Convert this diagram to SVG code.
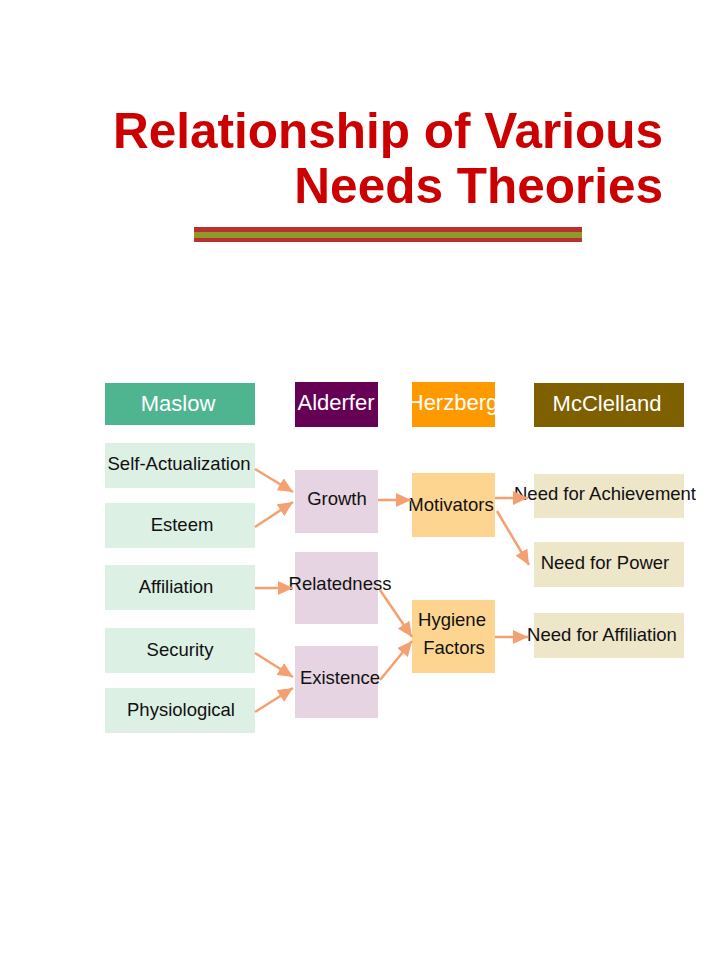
<svg xmlns="http://www.w3.org/2000/svg" width="728" height="971" viewBox="0 0 728 971">
<defs>
<style>
.t{font-family:"Liberation Sans",Arial,sans-serif;font-size:18.5px;fill:#111;text-anchor:middle}
.h{font-family:"Liberation Sans",Arial,sans-serif;font-size:22px;fill:#fff;text-anchor:middle}
.title{font-family:"Liberation Sans",Arial,sans-serif;font-size:49.5px;font-weight:bold;fill:#cc0000;text-anchor:end}
.mg{fill:#dcf0e4}.ap{fill:#e6d4e2}.ho{fill:#fdd590}.mt{fill:#ede6c9}
.c{stroke:#f4a070;stroke-width:2.5;fill:none;marker-end:url(#ah)}
</style>
<marker id="ah" markerUnits="userSpaceOnUse" markerWidth="17" markerHeight="14" refX="15" refY="7" orient="auto">
<path d="M0,0 L15,7 L0,14 Z" fill="#f4a070"/>
</marker>
</defs>
<rect width="728" height="971" fill="#fff"/>
<g id="title">
<text class="title" x="663" y="148">Relationship of Various</text>
<text class="title" x="663" y="203">Needs Theories</text>
<rect x="194" y="227" width="388" height="15" fill="#b83030"/>
<rect x="194" y="232" width="388" height="6" fill="#8c9a2a"/>
</g>
<g id="maslow-header"><rect x="105" y="383" width="150" height="42" fill="#4fb591"/><text class="h" x="178" y="411">Maslow</text></g>
<g id="alderfer-header"><rect x="295" y="382" width="83" height="45" fill="#660055"/><text class="h" x="336" y="410">Alderfer</text></g>
<g id="herzberg-header"><rect x="412" y="382" width="83" height="45" fill="#ff9900"/><text class="h" x="453" y="410">Herzberg</text></g>
<g id="mcclelland-header"><rect x="534" y="383" width="150" height="44" fill="#7f6000"/><text class="h" x="607" y="411">McClelland</text></g>

<g id="self-actualization"><rect class="mg" x="105" y="443" width="150" height="45"/><text class="t" x="179" y="470">Self-Actualization</text></g>
<g id="esteem"><rect class="mg" x="105" y="503" width="150" height="45"/><text class="t" x="182" y="531">Esteem</text></g>
<g id="affiliation"><rect class="mg" x="105" y="565" width="150" height="45"/><text class="t" x="176" y="593">Affiliation</text></g>
<g id="security"><rect class="mg" x="105" y="628" width="150" height="45"/><text class="t" x="180" y="656">Security</text></g>
<g id="physiological"><rect class="mg" x="105" y="688" width="150" height="45"/><text class="t" x="181" y="716">Physiological</text></g>

<g id="growth"><rect class="ap" x="295" y="470" width="83" height="63"/><text class="t" x="337" y="505">Growth</text></g>
<g id="relatedness"><rect class="ap" x="295" y="552" width="83" height="72"/><text class="t" x="340" y="590">Relatedness</text></g>
<g id="existence"><rect class="ap" x="295" y="646" width="83" height="72"/><text class="t" x="340" y="684">Existence</text></g>

<g id="motivators"><rect class="ho" x="412" y="473" width="83" height="64"/><text class="t" x="451" y="511">Motivators</text></g>
<g id="hygiene"><rect class="ho" x="412" y="600" width="83" height="73"/><text class="t" x="452" y="626">Hygiene</text><text class="t" x="454" y="654">Factors</text></g>

<g id="achievement"><rect class="mt" x="534" y="474" width="150" height="44"/><text class="t" x="605" y="500">Need for Achievement</text></g>
<g id="power"><rect class="mt" x="534" y="542" width="150" height="45"/><text class="t" x="605" y="569">Need for Power</text></g>
<g id="need-affiliation"><rect class="mt" x="534" y="613" width="150" height="45"/><text class="t" x="602" y="641">Need for Affiliation</text></g>

<g id="connectors">
<line class="c" x1="255" y1="469" x2="293" y2="492"/>
<line class="c" x1="255" y1="527" x2="293" y2="502"/>
<line class="c" x1="378" y1="500" x2="411" y2="500"/>
<line class="c" x1="495" y1="498" x2="528" y2="498"/>
<line class="c" x1="497" y1="511" x2="529" y2="565"/>
<line class="c" x1="255" y1="588" x2="293" y2="588"/>
<line class="c" x1="380" y1="590" x2="412" y2="637"/>
<line class="c" x1="380" y1="680" x2="412" y2="641"/>
<line class="c" x1="255" y1="653" x2="293" y2="677"/>
<line class="c" x1="255" y1="712" x2="293" y2="688"/>
<line class="c" x1="495" y1="637" x2="528" y2="637"/>
</g>
</svg>
